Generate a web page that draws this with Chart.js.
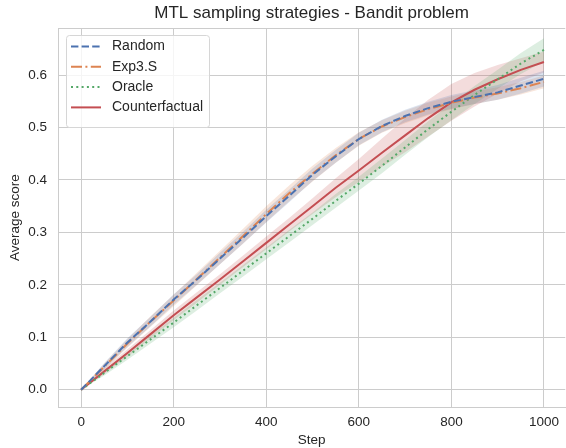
<!DOCTYPE html>
<html>
<head>
<meta charset="utf-8">
<script src="https://cdn.jsdelivr.net/npm/chart.js@4/dist/chart.umd.min.js"></script>
<style>
  html, body { margin: 0; padding: 0; background: #fff; }
  #wrap { width: 566px; height: 448px; }
</style>
</head>
<body>
<div id="wrap"><canvas id="myChart" width="566" height="448"></canvas></div>
<script>
/** DATA */
var steps = [0,50,100,150,200,250,300,350,400,450,500,550,600,650,700,750,800,850,900,950,1000];
var random = [0,0.045,0.09,0.13,0.172,0.21,0.25,0.29,0.331,0.37,0.41,0.445,0.478,0.503,0.522,0.537,0.549,0.558,0.567,0.58,0.593];
var exp3s = [0,0.044,0.088,0.13,0.17,0.211,0.252,0.293,0.335,0.375,0.412,0.447,0.478,0.502,0.52,0.535,0.547,0.557,0.565,0.575,0.587];
var oracle = [0,0.032,0.064,0.096,0.128,0.161,0.194,0.227,0.26,0.293,0.326,0.36,0.393,0.427,0.462,0.497,0.53,0.562,0.592,0.622,0.648];
var counterfactual = [0,0.035,0.07,0.106,0.142,0.176,0.21,0.245,0.28,0.315,0.35,0.385,0.418,0.452,0.485,0.518,0.548,0.572,0.592,0.61,0.625];

// half width of the shaded band round each mean
var randomSpread = [0,0.006,0.008,0.009,0.01,0.01,0.011,0.011,0.012,0.012,0.012,0.012,0.012,0.012,0.012,0.012,0.013,0.013,0.014,0.015,0.015];
var exp3sSpread = [0,0.006,0.008,0.01,0.011,0.012,0.013,0.014,0.015,0.015,0.015,0.014,0.013,0.012,0.012,0.012,0.012,0.012,0.012,0.012,0.012];
var oracleSpread = [0,0.005,0.007,0.008,0.009,0.01,0.01,0.011,0.011,0.012,0.012,0.013,0.013,0.014,0.014,0.015,0.016,0.017,0.018,0.02,0.022];
var counterSpread = [0,0.005,0.007,0.008,0.009,0.01,0.01,0.011,0.012,0.013,0.015,0.018,0.022,0.027,0.032,0.035,0.035,0.032,0.027,0.022,0.02];

var xTicks = [0,200,400,600,800,1000];
var yTicks = [0,0.1,0.2,0.3,0.4,0.5,0.6];

var series = [
  { label: "Random", values: random, spread: randomSpread, color: "76,114,176", dash: [7.4,3.2] },
  { label: "Exp3.S", values: exp3s, spread: exp3sSpread, color: "221,132,82", dash: [11,3.4,2,3.4] },
  { label: "Oracle", values: oracle, spread: oracleSpread, color: "85,168,104", dash: [2,3.3] },
  { label: "Counterfactual", values: counterfactual, spread: counterSpread, color: "196,78,82", dash: [] }
];

function pts(vals, off, sign) {
  return steps.map(function (s, i) { return { x: s, y: vals[i] + (off ? sign * off[i] : 0) }; });
}

var datasets = [];
series.forEach(function (s) {
  datasets.push({ data: pts(s.values, s.spread, -1), borderWidth: 0, pointRadius: 0, fill: false, order: 10 });
  datasets.push({ data: pts(s.values, s.spread, 1), borderWidth: 0, pointRadius: 0, fill: '-1',
    backgroundColor: "rgba(" + s.color + ",0.2)", order: 10 });
});
series.forEach(function (s) {
  datasets.push({ label: s.label, data: pts(s.values), borderColor: "rgb(" + s.color + ")",
    borderWidth: 2, borderDash: s.dash, pointRadius: 0, fill: false, order: 0, borderCapStyle: 'butt' });
});

/** top spine + legend inside the plot, top left */
var insideLegend = {
  id: 'insideLegend',
  afterDraw: function (chart) {
    var ctx = chart.ctx;
    var a = chart.chartArea;
    ctx.save();
    ctx.strokeStyle = "#cccccc";
    ctx.lineWidth = 1;
    ctx.beginPath();
    ctx.moveTo(a.left, Math.round(a.top) + 0.5);
    ctx.lineTo(a.right, Math.round(a.top) + 0.5);
    ctx.stroke();

    var x0 = 66, y0 = 35, w = 143, h = 92;
    ctx.fillStyle = "rgba(255,255,255,0.8)";
    ctx.strokeStyle = "#d6d6d6";
    ctx.beginPath();
    ctx.roundRect(x0 + 0.5, y0 + 0.5, w, h, 3);
    ctx.fill();
    ctx.stroke();
    ctx.font = "14px 'Liberation Sans', Arial, sans-serif";
    ctx.textBaseline = "middle";
    series.forEach(function (s, i) {
      var y = 46.5 + i * 20.3;
      ctx.strokeStyle = "rgb(" + s.color + ")";
      ctx.lineWidth = 2;
      ctx.setLineDash(s.dash);
      ctx.beginPath();
      ctx.moveTo(71, y);
      ctx.lineTo(101, y);
      ctx.stroke();
      ctx.setLineDash([]);
      ctx.fillStyle = "#262626";
      ctx.fillText(s.label, 112, y);
    });
    ctx.restore();
  }
};

var tickFont = { family: "'Liberation Sans', Arial, sans-serif", size: 13.5 };

var ctx = document.getElementById('myChart').getContext('2d');
var myChart = new Chart(ctx, {
  type: 'line',
  data: { datasets: datasets },
  plugins: [insideLegend],
  options: {
    responsive: false,
    animation: false,
    layout: { padding: 0 },
    plugins: {
      legend: { display: false },
      tooltip: { enabled: false },
      title: {
        display: true,
        fullSize: false,
        text: 'MTL sampling strategies - Bandit problem',
        color: '#262626',
        font: { family: "'Liberation Sans', Arial, sans-serif", size: 17, weight: 'normal' },
        padding: { top: 3, bottom: 5 }
      }
    },
    scales: {
      x: {
        type: 'linear',
        min: -50,
        max: 1046,
        afterBuildTicks: function (scale) { scale.ticks = xTicks.map(function (v) { return { value: v }; }); },
        afterFit: function (scale) { scale.height = 41; },
        grid: { color: '#cccccc', drawTicks: false },
        border: { color: '#cccccc' },
        ticks: { color: '#262626', font: tickFont, padding: 7, maxRotation: 0, callback: function (v) { return String(v); } },
        title: { display: true, text: 'Step', color: '#262626', font: tickFont, padding: { top: 0, bottom: 0 } }
      },
      y: {
        type: 'linear',
        min: -0.033,
        max: 0.689,
        afterBuildTicks: function (scale) { scale.ticks = yTicks.map(function (v) { return { value: v }; }); },
        afterFit: function (scale) { scale.width = 58; },
        grid: { color: '#cccccc', drawTicks: false },
        border: { color: '#cccccc' },
        ticks: { color: '#262626', font: tickFont, padding: 11, callback: function (v) { return v.toFixed(1); } },
        title: { display: true, text: 'Average score', color: '#262626', font: tickFont, padding: { top: 7, bottom: 0 } }
      }
    }
  }
});
</script>
</body>
</html>
